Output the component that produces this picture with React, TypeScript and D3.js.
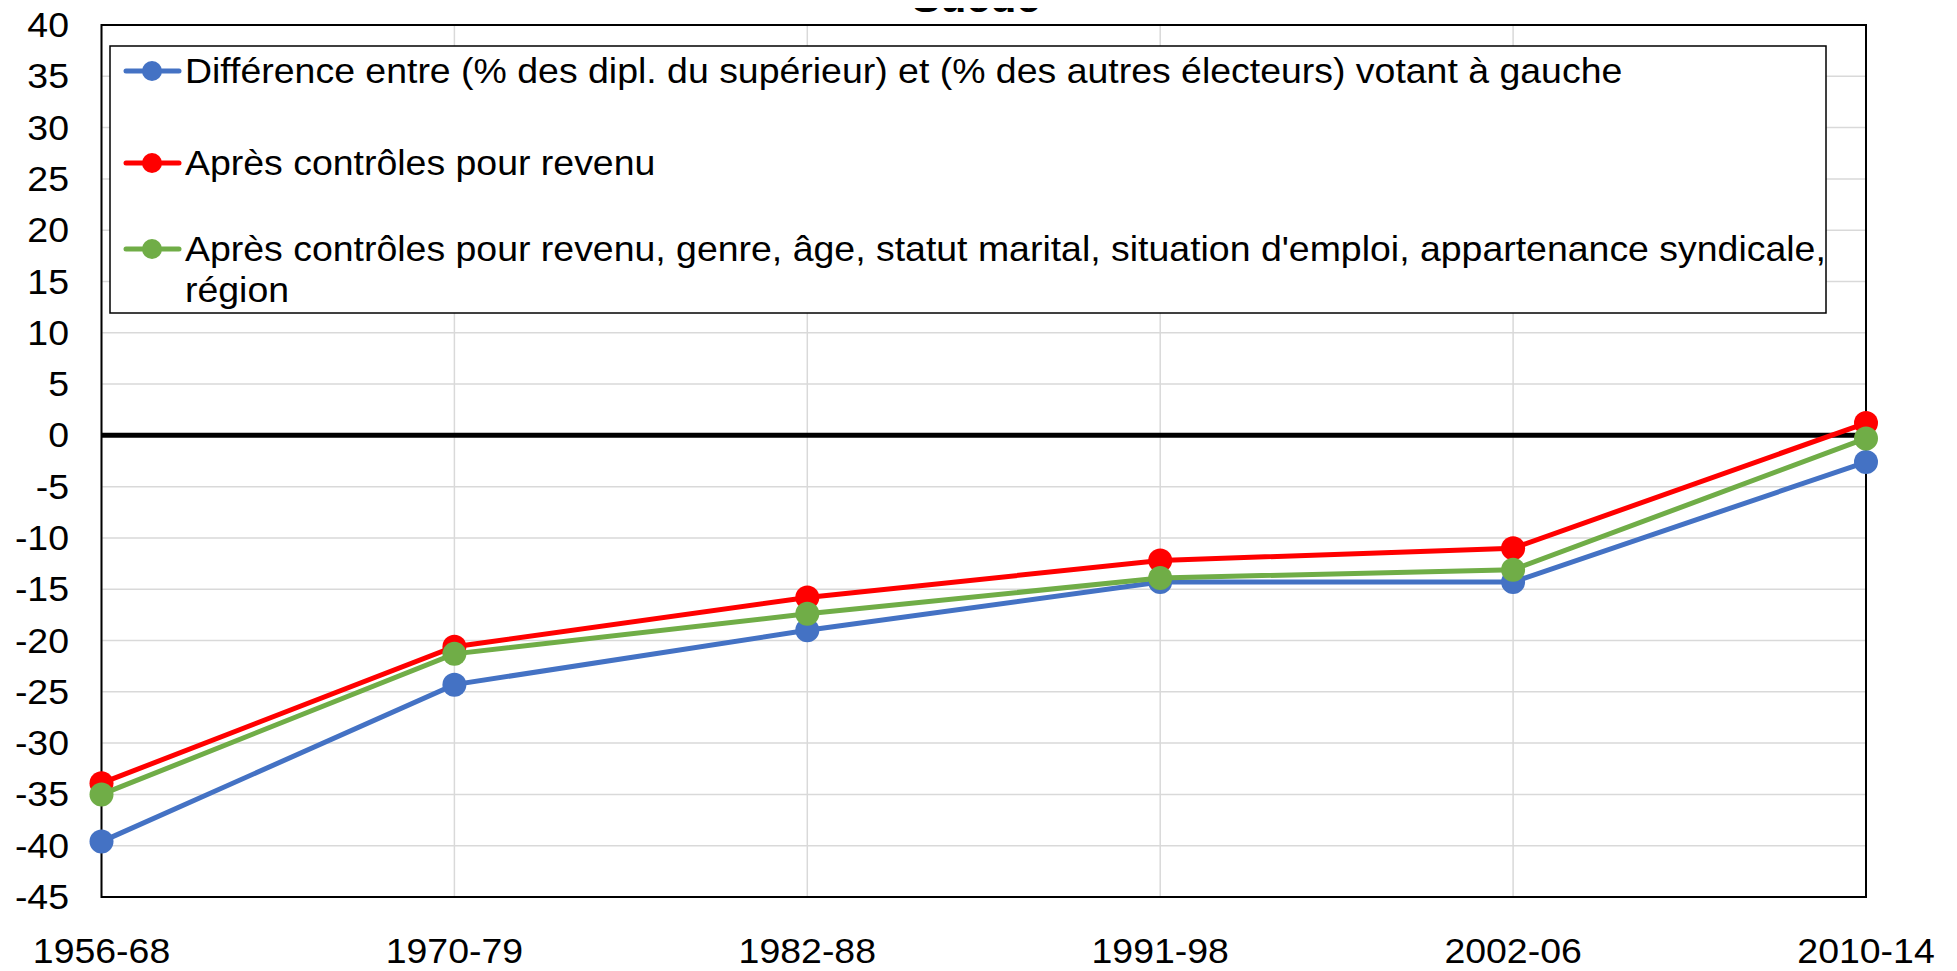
import * as d3 from "d3";

const periods = ["1956-68", "1970-79", "1982-88", "1991-98", "2002-06", "2010-14"];

const diffRaw = [-39.6, -24.3, -19.0, -14.3, -14.3, -2.6];
const diffIncome = [-33.9, -20.6, -15.8, -12.2, -11.0, 1.2];
const diffAll = [-35.0, -21.3, -17.4, -13.9, -13.1, -0.3];

const seriesNames = [
  "Différence entre (% des dipl. du supérieur) et (% des autres électeurs) votant à gauche",
  "Après contrôles pour revenu",
  "Après contrôles pour revenu, genre, âge, statut marital, situation d'emploi, appartenance syndicale,",
];
const seriesNameExtra = "région";

const yTicks = d3.range(-45, 41, 5);

const FONT = "'Liberation Sans', Arial, sans-serif";
const STRETCH = 1.07; // the source text is a bit wider than Arial

function Txt({ x, y, anchor = "start", size = 35, weight, baseline, children }: any) {
  return (
    <text
      transform={`translate(${x},${y}) scale(${STRETCH},1)`}
      textAnchor={anchor}
      dominantBaseline={baseline}
      fontSize={size}
      fontWeight={weight}
    >
      {children}
    </text>
  );
}

export default function App() {
  const width = 1957;
  const height = 971;
  const plot = { left: 101.5, right: 1866, top: 25, bottom: 897 };

  const x = d3
    .scalePoint<string>()
    .domain(periods)
    .range([plot.left, plot.right]);

  const y = d3.scaleLinear().domain([-45, 40]).range([plot.bottom, plot.top]);

  const series = [
    { name: seriesNames[0], values: diffRaw, color: "#4472C4" },
    { name: seriesNames[1], values: diffIncome, color: "#FF0000" },
    { name: seriesNames[2], values: diffAll, color: "#70AD47" },
  ];

  const line = d3
    .line<number>()
    .x((_, i) => x(periods[i]) as number)
    .y((d) => y(d));

  // legend rows (centre y of the marker)
  const legendRows = [71, 163, 249];

  return (
    <div style={{ margin: -8 }}>
      <svg width={width} height={height} style={{ display: "block", fontFamily: FONT }}>
        <rect width={width} height={height} fill="#fff" />

        {/* title, clipped at the top like the original */}
        <Txt x={976} y={12} anchor="middle" size={40} weight="bold">
          Suède
        </Txt>

        {/* grid */}
        {yTicks.map((t) => (
          <line
            key={"h" + t}
            x1={plot.left}
            x2={plot.right}
            y1={y(t)}
            y2={y(t)}
            stroke="#d9d9d9"
            strokeWidth={1.5}
          />
        ))}
        {periods.map((p) => (
          <line
            key={"v" + p}
            x1={x(p)}
            x2={x(p)}
            y1={plot.top}
            y2={plot.bottom}
            stroke="#d9d9d9"
            strokeWidth={1.5}
          />
        ))}

        {/* zero line */}
        <line
          x1={plot.left}
          x2={plot.right}
          y1={y(0)}
          y2={y(0)}
          stroke="#000"
          strokeWidth={5}
        />

        {/* plot border */}
        <rect
          x={plot.left}
          y={plot.top}
          width={plot.right - plot.left}
          height={plot.bottom - plot.top}
          fill="none"
          stroke="#000"
          strokeWidth={2}
        />

        {/* y tick labels */}
        {yTicks.map((t) => (
          <Txt key={"yt" + t} x={69} y={y(t)} anchor="end" baseline="central">
            {t}
          </Txt>
        ))}

        {/* x tick labels */}
        {periods.map((p) => (
          <Txt key={"xt" + p} x={x(p)} y={963} anchor="middle">
            {p}
          </Txt>
        ))}

        {/* series */}
        {series.map((s) => (
          <g key={s.name}>
            <path d={line(s.values) ?? ""} fill="none" stroke={s.color} strokeWidth={5} />
            {s.values.map((v, i) => (
              <circle key={i} cx={x(periods[i])} cy={y(v)} r={12} fill={s.color} />
            ))}
          </g>
        ))}

        {/* legend */}
        <rect x={110} y={46} width={1716} height={267} fill="#fff" stroke="#000" strokeWidth={1.5} />
        {series.map((s, i) => (
          <g key={"lg" + i}>
            <line
              x1={126}
              x2={179}
              y1={legendRows[i]}
              y2={legendRows[i]}
              stroke={s.color}
              strokeWidth={5}
              strokeLinecap="round"
            />
            <circle cx={152} cy={legendRows[i]} r={10} fill={s.color} />
            <Txt x={185} y={legendRows[i] + 12}>
              {s.name}
            </Txt>
          </g>
        ))}
        <Txt x={185} y={legendRows[2] + 53}>
          {seriesNameExtra}
        </Txt>
      </svg>
    </div>
  );
}
